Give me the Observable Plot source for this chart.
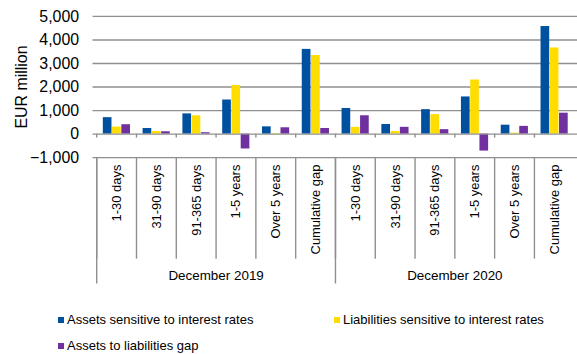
<!DOCTYPE html>
<html><head><meta charset="utf-8">
<script src="https://cdn.jsdelivr.net/npm/d3@7"></script>
<script src="https://cdn.jsdelivr.net/npm/@observablehq/plot@0.6"></script>
<style>
html,body{margin:0;padding:0;background:#fff;overflow:hidden;}
#wrap{position:relative;width:577px;height:354px;overflow:hidden;font-family:"Liberation Sans",Arial,sans-serif;}
#wrap svg{display:block;}
.leg{position:absolute;font-size:13px;color:#000;display:flex;align-items:center;white-space:nowrap;line-height:1;}
.sw{width:6px;height:6px;margin-right:3px;flex:none;}
</style></head><body><div id="wrap"></div>
<script>
const groups = ["December 2019", "December 2020"];
const buckets = ["1-30 days", "31-90 days", "91-365 days", "1-5 years", "Over 5 years", "Cumulative gap"];
const seriesNames = ["Assets sensitive to interest rates", "Liabilities sensitive to interest rates", "Assets to liabilities gap"];
const assets2019 = [700, 240, 860, 1450, 310, 3600];
const liabilities2019 = [300, 110, 780, 2070, 20, 3340];
const gap2019 = [400, 100, 60, -630, 270, 240];
const assets2020 = [1090, 410, 1040, 1580, 380, 4570];
const liabilities2020 = [290, 110, 830, 2300, 40, 3660];
const gap2020 = [780, 290, 190, -720, 330, 890];
const yTicks = [-1000, 0, 1000, 2000, 3000, 4000, 5000];
const yLabel = "EUR million";
const colors = ["#0050a0", "#ffdd00", "#7030a0"];

const seriesByGroup = [
  [assets2019, liabilities2019, gap2019],
  [assets2020, liabilities2020, gap2020]
];
const rows = [];
groups.forEach((g, gi) => buckets.forEach((b, bi) => {
  rows.push({key: g + "|" + b, group: g, bucket: b,
    s0: seriesByGroup[gi][0][bi], s1: seriesByGroup[gi][1][bi], s2: seriesByGroup[gi][2][bi]});
}));
const keys = rows.map(d => d.key);
const groupStarts = groups.map(g => g + "|" + buckets[0]);
const groupMids = groups.map(g => g + "|" + buckets[3]);

const W = 580, H = 295, ML = 93, MT = 16, MB = 137;
const step = (W - ML) / keys.length;
const barW = 9.3;
const pad = (step - 3 * barW) / 2;
const grid = "#8f8f8f";

const bars = [0, 1, 2].map(s => Plot.barY(rows, {
  x: "key", y: "s" + s, fill: colors[s],
  insetLeft: pad + s * barW, insetRight: step - pad - (s + 1) * barW
}));

const chart = Plot.plot({
  width: W, height: H, marginLeft: ML, marginRight: 0, marginTop: MT, marginBottom: MB,
  style: {fontFamily: "Liberation Sans, Arial, sans-serif", fontSize: "15px", color: "#000", background: "#fff", overflow: "visible"},
  x: {type: "band", domain: keys, padding: 0, axis: null},
  y: {domain: [-1000, 5000], axis: null},
  marks: [
    Plot.gridY(yTicks.filter(d => d !== 0), {stroke: grid, strokeOpacity: 1, strokeWidth: 1.4}),
    Plot.axisY(yTicks, {tickSize: 0, tickPadding: 14, tickFormat: d3.format(","), fontSize: 16, label: null, fill: "#000"}),
    ...bars,
    Plot.ruleY([0], {stroke: grid, strokeWidth: 1.4}),
    Plot.ruleX(keys, {x: d => d, y1: 0, y2: 0, insetBottom: -4, dx: -step / 2, stroke: grid, strokeWidth: 1.4}),
    Plot.ruleX(keys, {x: d => d, y1: -1000, y2: -1000, insetBottom: -102, dx: -step / 2, stroke: grid, strokeWidth: 1.4}),
    Plot.ruleX(groupStarts, {x: d => d, y1: -1000, y2: -1000, insetBottom: -127, dx: -step / 2, stroke: grid, strokeWidth: 1.4}),
    Plot.text(rows, {x: "key", y: () => -1000, text: "bucket", rotate: -90, textAnchor: "end", dy: 7, fontSize: 13, fill: "#000"}),
    Plot.text(groups, {x: (d, i) => groupMids[i], y: () => -1000, text: d => d, dx: -step / 2, dy: 119, fontSize: 13.5, fill: "#000"}),
    Plot.text([yLabel], {frameAnchor: "left", textAnchor: "middle", text: d => d, rotate: -90, dx: -71.5, fontSize: 16, fill: "#000"})
  ]
});
const wrap = document.getElementById("wrap");
wrap.appendChild(chart);

const legendPos = [[58, 313], [334, 313], [58, 339]];
seriesNames.forEach((name, i) => {
  const el = document.createElement("div");
  el.className = "leg";
  el.style.left = legendPos[i][0] + "px";
  el.style.top = legendPos[i][1] + "px";
  el.innerHTML = `<span class="sw" style="background:${colors[i]}"></span><span>${name}</span>`;
  wrap.appendChild(el);
});
</script></body></html>
